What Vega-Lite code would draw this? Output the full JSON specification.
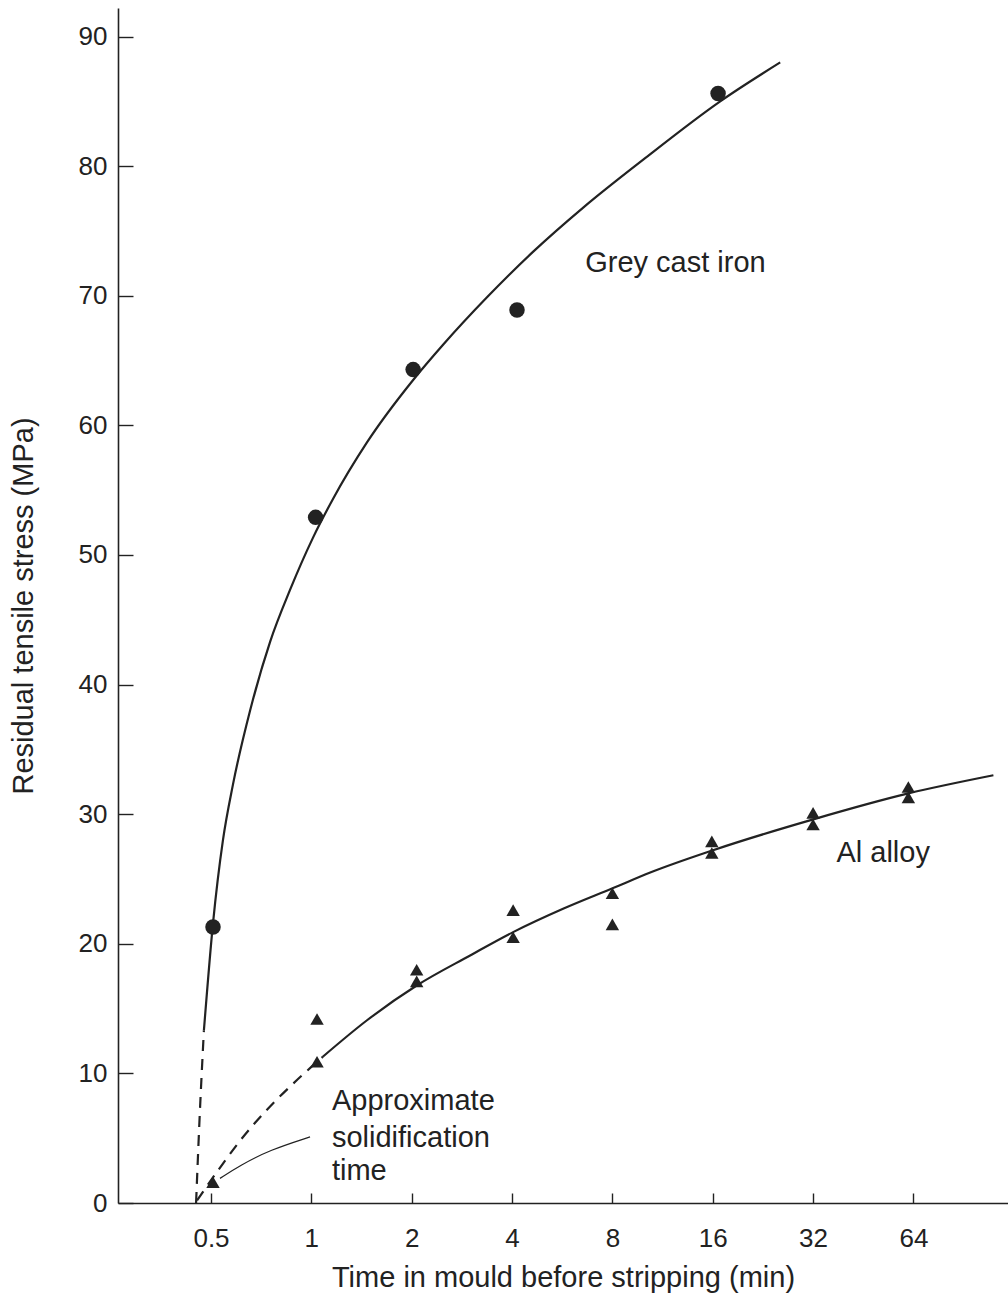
{
  "$schema": "https://vega.github.io/schema/vega-lite/v6.json",
  "width": 890,
  "height": 1195,
  "autosize": "none",
  "padding": {"left": 118, "top": 8, "right": 0, "bottom": 92},
  "background": "white",
  "config": {
    "view": {"stroke": null},
    "font": "Liberation Sans",
    "axis": {"grid": false, "domainColor": "#222", "domainWidth": 1.6, "tickColor": "#222", "tickWidth": 1.4, "labelColor": "#222", "titleColor": "#222", "labelFont": "Liberation Sans", "titleFont": "Liberation Sans", "titleFontWeight": "normal"}
  },
  "datasets": {
    "curves": [
      {"curve": "iron_dash", "t": 0.451, "s": 0},
      {"curve": "iron_dash", "t": 0.462, "s": 6.5},
      {"curve": "iron_dash", "t": 0.476, "s": 13.3},
      {"curve": "iron", "t": 0.476, "s": 13.3},
      {"curve": "iron", "t": 0.507, "s": 21.6},
      {"curve": "iron", "t": 0.543, "s": 28.0},
      {"curve": "iron", "t": 0.582, "s": 32.3},
      {"curve": "iron", "t": 0.655, "s": 38.0},
      {"curve": "iron", "t": 0.752, "s": 43.3},
      {"curve": "iron", "t": 0.863, "s": 47.3},
      {"curve": "iron", "t": 1.01, "s": 51.3},
      {"curve": "iron", "t": 1.16, "s": 54.3},
      {"curve": "iron", "t": 1.47, "s": 58.7},
      {"curve": "iron", "t": 2.02, "s": 63.5},
      {"curve": "iron", "t": 2.48, "s": 66.2},
      {"curve": "iron", "t": 3.37, "s": 69.9},
      {"curve": "iron", "t": 4.63, "s": 73.4},
      {"curve": "iron", "t": 6.54, "s": 76.8},
      {"curve": "iron", "t": 9.9, "s": 80.5},
      {"curve": "iron", "t": 16.85, "s": 85.0},
      {"curve": "iron", "t": 25.5, "s": 88.0},
      {"curve": "al_dash", "t": 0.454, "s": 0.2},
      {"curve": "al_dash", "t": 0.521, "s": 2.4},
      {"curve": "al_dash", "t": 0.611, "s": 4.8},
      {"curve": "al_dash", "t": 0.736, "s": 7.2},
      {"curve": "al_dash", "t": 0.881, "s": 9.2},
      {"curve": "al_dash", "t": 1.0, "s": 10.5},
      {"curve": "al_dash", "t": 1.084, "s": 11.3},
      {"curve": "al", "t": 1.084, "s": 11.3},
      {"curve": "al", "t": 1.469, "s": 14.1},
      {"curve": "al", "t": 2.076, "s": 16.8},
      {"curve": "al", "t": 2.995, "s": 19.1},
      {"curve": "al", "t": 4.03, "s": 20.9},
      {"curve": "al", "t": 5.69, "s": 22.7},
      {"curve": "al", "t": 8.04, "s": 24.3},
      {"curve": "al", "t": 10.39, "s": 25.5},
      {"curve": "al", "t": 15.95, "s": 27.2},
      {"curve": "al", "t": 32.05, "s": 29.6},
      {"curve": "al", "t": 61.8, "s": 31.6},
      {"curve": "al", "t": 111.2, "s": 33.0},
      {"curve": "arrow", "t": 0.991, "s": 5.1},
      {"curve": "arrow", "t": 0.752, "s": 4.1},
      {"curve": "arrow", "t": 0.611, "s": 2.9},
      {"curve": "arrow", "t": 0.532, "s": 1.9}
    ],
    "iron": [
      {"t": 0.507, "s": 21.3},
      {"t": 1.03, "s": 52.9},
      {"t": 2.02, "s": 64.3},
      {"t": 4.14, "s": 68.9},
      {"t": 16.6, "s": 85.6}
    ],
    "al": [
      {"t": 0.507, "s": 1.6},
      {"t": 1.04, "s": 14.2},
      {"t": 1.04, "s": 10.9},
      {"t": 2.07, "s": 18.0},
      {"t": 2.07, "s": 17.1},
      {"t": 4.03, "s": 22.6},
      {"t": 4.03, "s": 20.5},
      {"t": 8.0, "s": 23.9},
      {"t": 8.0, "s": 21.5},
      {"t": 15.9, "s": 27.9},
      {"t": 15.9, "s": 27.0},
      {"t": 32.0, "s": 30.1},
      {"t": 32.0, "s": 29.2},
      {"t": 61.8, "s": 32.1},
      {"t": 61.8, "s": 31.3}
    ],
    "labels": [
      {"t": 6.63, "s": 72.5, "text": "Grey cast iron"},
      {"t": 37.6, "s": 27.0, "text": "Al alloy"},
      {"t": 1.153, "s": 7.9, "text": "Approximate"},
      {"t": 1.153, "s": 5.0, "text": "solidification"},
      {"t": 1.153, "s": 2.5, "text": "time"}
    ]
  },
  "encoding": {
    "x": {
      "field": "t", "type": "quantitative",
      "scale": {"type": "log", "base": 2, "domain": [0.263, 123], "nice": false},
      "axis": {"values": [0.5, 1, 2, 4, 8, 16, 32, 64], "format": "~g", "tickSize": -10, "labelFontSize": 26, "labelPadding": 32, "title": "Time in mould before stripping (min)", "titleFontSize": 29, "titlePadding": 12, "labelFlush": false}
    },
    "y": {
      "field": "s", "type": "quantitative",
      "scale": {"domain": [0, 92.2], "nice": false},
      "axis": {"values": [0, 10, 20, 30, 40, 50, 60, 70, 80, 90], "tickSize": -15, "labelFontSize": 26, "labelPadding": 26, "title": "Residual tensile stress (MPa)", "titleFontSize": 29, "titlePadding": 40, "labelFlush": false}
    }
  },
  "layer": [
    {
      "data": {"name": "curves"},
      "transform": [{"filter": "datum.curve === 'iron' || datum.curve === 'al'"}],
      "mark": {"type": "line", "interpolate": "monotone", "color": "#222", "strokeWidth": 2.2},
      "encoding": {"detail": {"field": "curve"}}
    },
    {
      "data": {"name": "curves"},
      "transform": [{"filter": "datum.curve === 'iron_dash' || datum.curve === 'al_dash'"}],
      "mark": {"type": "line", "interpolate": "monotone", "color": "#222", "strokeWidth": 2.2, "strokeDash": [11, 8]},
      "encoding": {"detail": {"field": "curve"}}
    },
    {
      "data": {"name": "curves"},
      "transform": [{"filter": "datum.curve === 'arrow'"}],
      "mark": {"type": "line", "interpolate": "basis", "color": "#222", "strokeWidth": 1.2},
      "encoding": {"order": {"field": "s", "sort": "descending"}}
    },
    {
      "data": {"name": "iron"},
      "mark": {"type": "point", "shape": "circle", "filled": true, "color": "#222", "opacity": 1, "size": 240}
    },
    {
      "data": {"name": "al"},
      "mark": {"type": "point", "shape": "triangle-up", "filled": true, "color": "#222", "opacity": 1, "size": 180}
    },
    {
      "data": {"name": "labels"},
      "mark": {"type": "text", "align": "left", "baseline": "middle", "fontSize": 29, "color": "#222", "font": "Liberation Sans"},
      "encoding": {"text": {"field": "text"}}
    }
  ]
}
